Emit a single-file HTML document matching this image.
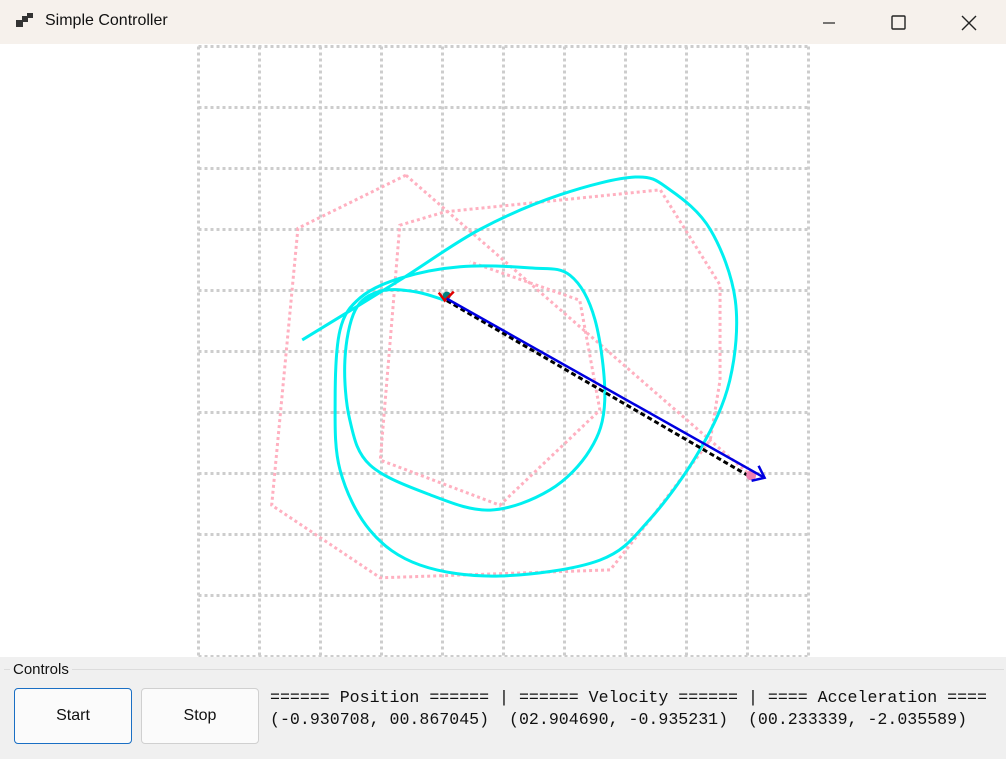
<!DOCTYPE html>
<html><head><meta charset="utf-8"><style>
body{margin:0;width:1006px;height:759px;overflow:hidden;background:#fff;font-family:"Liberation Sans",sans-serif;position:relative}
#title{position:absolute;left:0;top:0;width:1006px;height:44px;background:#f6f1ec}
#title span{position:absolute;left:45px;top:12px;font-size:16px;color:#111}
#controls{position:absolute;left:0;top:657px;width:1006px;height:102px;background:#f0f0f0}
.btn{position:absolute;top:31px;width:116px;height:54px;background:#fbfbfb;border:1px solid #d0d0d0;border-radius:4px;font-size:16px;text-align:center;line-height:54px;color:#111}
.mono{position:absolute;left:270px;font-family:"Liberation Mono",monospace;font-size:16.6px;color:#111;white-space:pre}
</style></head><body>
<div id="title">
<svg style="position:absolute;left:16px;top:13px" width="18" height="16"><rect x="0" y="7" width="7" height="7" fill="#333"/><rect x="6" y="3" width="6" height="6" fill="#333"/><rect x="11" y="0" width="6" height="5" fill="#333"/></svg>
<span>Simple Controller</span>
<svg style="position:absolute;left:820px;top:14px" width="160" height="18">
<line x1="3" y1="9" x2="15" y2="9" stroke="#222" stroke-width="1.2"/>
<rect x="72" y="2" width="13" height="13" fill="none" stroke="#222" stroke-width="1.4" rx="1"/>
<path d="M142 2 L156 16 M156 2 L142 16" stroke="#222" stroke-width="1.4"/>
</svg></div>
<svg id="plot" style="position:absolute;left:0;top:44px" width="1006" height="613"></svg>
<div id="controls">
<div style="position:absolute;left:4px;top:12px;width:1000px;border-top:1px solid #dcdcdc"></div>
<div style="position:absolute;left:10px;top:4px;background:#f0f0f0;padding:0 3px;font-size:15px;color:#111">Controls</div>
<div class="btn" style="left:14px;border:1px solid #1a6fc4">Start</div>
<div class="btn" style="left:141px">Stop</div>
<div class="mono" style="top:31px">====== Position ====== | ====== Velocity ====== | ==== Acceleration ====</div>
<div class="mono" style="top:53px">(-0.930708, 00.867045)  (02.904690, -0.935231)  (00.233339, -2.035589)</div>
</div>
<script>
const cyanX=[-3.30,-1.70,-0.39,0.93,2.16,2.73,3.39,3.80,3.71,3.22,2.40,1.58,-0.06,-1.37,-2.19,-2.68,-2.76,-2.68,-2.35,-1.70,-0.71,0.43,1.09,1.50,1.66,1.42,0.76,-0.22,-1.20,-2.19,-2.52,-2.60,-2.43,-2.02,-1.45,-0.96];
const cyanY=[0.19,1.17,2.00,2.57,2.86,2.65,2.00,0.84,-0.47,-1.61,-2.75,-3.42,-3.68,-3.50,-2.93,-1.94,-0.80,0.35,0.88,1.20,1.39,1.37,1.25,0.52,-0.80,-1.61,-2.27,-2.60,-2.35,-1.86,-1.12,-0.14,0.68,0.99,0.98,0.84];
const pinkX=[-1.60,-3.37,-3.80,-2.02,1.75,2.40,3.39,3.55,3.55,2.57,-0.96,-1.70,-2.02,-0.06,1.58,1.25,-0.55];
const pinkY=[2.89,2.02,-2.52,-3.71,-3.58,-2.76,-1.45,-0.47,1.09,2.65,2.29,2.07,-1.78,-2.52,-0.96,0.84,1.47];
const pinkBX=[-1.60,4.06];
const pinkBY=[2.89,-2.04];
const pos=[-0.93,0.867];
const arrowEnd=[4.28,-2.07];
const targetPt=[4.06,-2.03];
const gridTicks=[-5,-4,-3,-2,-1,0,1,2,3,4,5];
const S=61,CX=503.5,CY=307.5;
const sx=v=>CX+v*S, sy=v=>CY-v*S;
const svg=document.getElementById('plot');const NS='http://www.w3.org/2000/svg';
function mk(t,a){const e=document.createElementNS(NS,t);for(const k in a)e.setAttribute(k,a[k]);svg.appendChild(e);return e;}
gridTicks.forEach(t=>{
 let l=mk('line',{x1:sx(t),x2:sx(t),y1:sy(5),y2:sy(-5),stroke:'#cdcdcd','stroke-width':3,'stroke-dasharray':'3,3'});
 
 
 let h=mk('line',{x1:sx(-5),x2:sx(5),y1:sy(t),y2:sy(t),stroke:'#cdcdcd','stroke-width':3,'stroke-dasharray':'3,3'});
 
 
});
function poly(X,Y){return X.map((x,i)=>sx(x)+','+sy(Y[i])).join(' ');}
let p1=mk('polyline',{points:poly(pinkX,pinkY),fill:'none',stroke:'#ffb0c0','stroke-width':3,'stroke-dasharray':'3,3'});


let p2=mk('polyline',{points:poly(pinkBX,pinkBY),fill:'none',stroke:'#ffb0c0','stroke-width':3,'stroke-dasharray':'3,3'});


let P=cyanX.map((x,i)=>[sx(x),sy(cyanY[i])]);let d='M'+P[0];
for(let i=0;i<P.length-1;i++){const p0=P[Math.max(0,i-1)],a=P[i],b=P[i+1],p3=P[Math.min(P.length-1,i+2)];
d+=' C'+(a[0]+(b[0]-p0[0])/6)+','+(a[1]+(b[1]-p0[1])/6)+' '+(b[0]-(p3[0]-a[0])/6)+','+(b[1]-(p3[1]-a[1])/6)+' '+b[0]+','+b[1];}
let c=mk('path',{d:d,fill:'none',stroke:'#00f0f0','stroke-width':3});


let dash=mk('line',{x1:sx(pos[0]),y1:sy(pos[1])+2,x2:sx(targetPt[0]),y2:sy(targetPt[1])+2,stroke:'#000','stroke-width':3,'stroke-dasharray':'5,3'});


let tg=mk('circle',{cx:sx(targetPt[0]),cy:sy(targetPt[1]),r:5,fill:'#f080b0'});


let dot=mk('circle',{cx:sx(pos[0]),cy:sy(pos[1])-3,r:4,fill:'#008080'});


const px=sx(pos[0]),py=sy(pos[1]);
let v=mk('path',{d:`M${px-8},${py-6} L${px-2},${py+2} L${px+7},${py-7}`,fill:'none',stroke:'#e00000','stroke-width':2.5});


const ex=sx(arrowEnd[0]),ey=sy(arrowEnd[1]);
let ar=mk('line',{x1:px,y1:py,x2:ex,y2:ey,stroke:'#0000e0','stroke-width':2.5});


let ah=mk('path',{d:`M${ex-6},${ey-12} L${ex},${ey} L${ex-13},${ey+3}`,fill:'none',stroke:'#0000e0','stroke-width':2.5});


</script>
</body></html>
